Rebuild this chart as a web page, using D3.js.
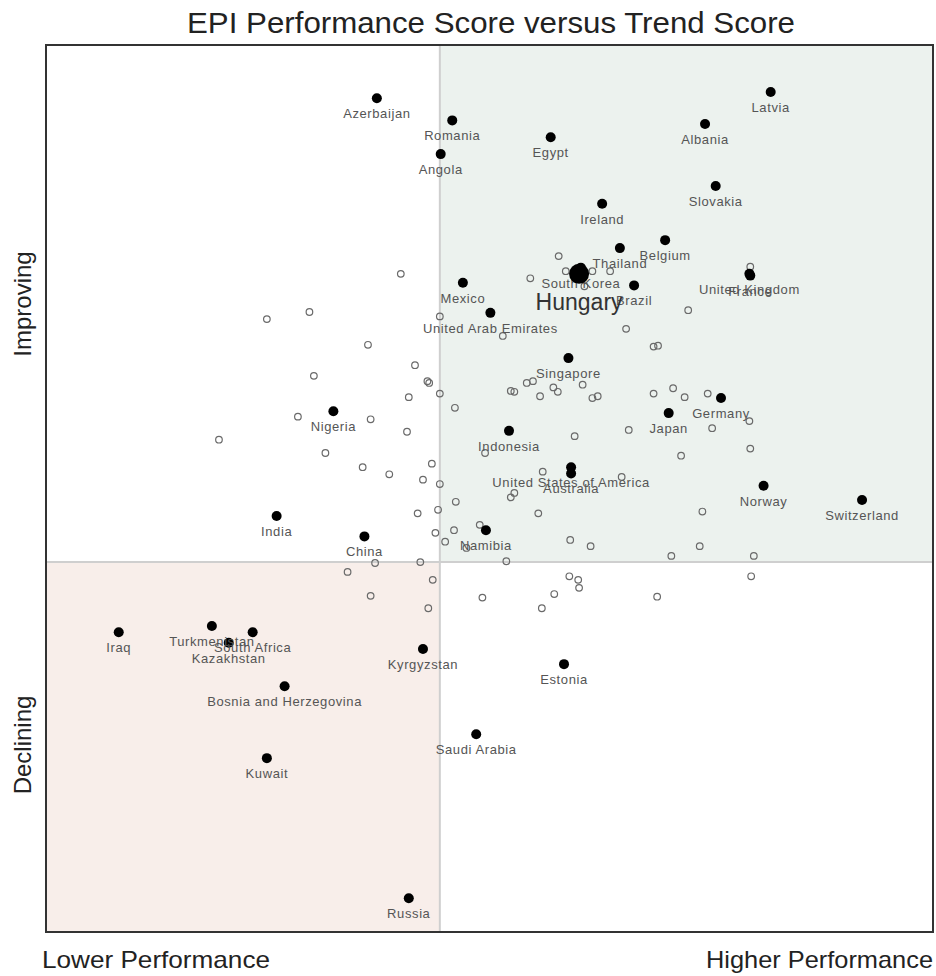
<!DOCTYPE html>
<html>
<head>
<meta charset="utf-8">
<script src="https://cdn.jsdelivr.net/npm/d3@7"></script>
<style>
  body { margin: 0; background: #fff; }
  svg { display: block; font-family: "Liberation Sans", Arial, sans-serif; }
</style>
</head>
<body>
<svg id="chart" width="936" height="976"></svg>
<script>
// highlighted countries (filled dots with labels)
var names = ["Azerbaijan", "Romania", "Angola", "Egypt", "Latvia", "Albania", "Slovakia", "Ireland",
  "Belgium", "Thailand", "South Korea", "Brazil", "Mexico", "United Arab Emirates", "United Kingdom",
  "France", "Singapore", "Germany", "Japan", "Nigeria", "Indonesia", "United States of America",
  "Australia", "Norway", "Switzerland", "India", "China", "Namibia", "Iraq", "Turkmenistan",
  "South Africa", "Kazakhstan", "Kyrgyzstan", "Bosnia and Herzegovina", "Estonia", "Saudi Arabia",
  "Kuwait", "Russia"];
var perf = [37.3, 45.8, 44.5, 56.9, 81.7, 74.3, 75.5, 62.7, 69.8, 64.7, 60.3, 66.3, 47.0, 50.1, 79.3,
  79.4, 58.9, 76.1, 70.2, 32.4, 52.2, 59.2, 59.2, 80.9, 92.0, 26.0, 35.9, 49.6, 8.2, 18.7,
  23.3, 20.6, 42.5, 26.9, 58.4, 48.5, 24.9, 40.9];
var trend = [94.0, 91.5, 87.7, 89.6, 94.7, 91.1, 84.1, 82.1, 78.0, 77.1, 74.9, 72.9, 73.2, 69.8, 74.2,
  74.0, 64.7, 60.2, 58.5, 58.7, 56.5, 52.4, 51.7, 50.3, 48.7, 46.9, 44.6, 45.3, 33.8, 34.5,
  33.8, 32.6, 31.9, 27.7, 30.2, 22.3, 19.6, 3.8];

// the focus country
var focusName = "Hungary";
var focusPerf = 60.1;
var focusTrend = 74.2;

// all other countries (open circles, no labels)
var otherPerf = [40.0, 24.9, 29.7, 36.3, 41.6, 43.0, 43.2, 44.4, 44.4, 30.2, 40.9, 46.1, 28.4, 36.6,
  40.7, 19.5, 31.5, 35.7, 38.7, 43.5, 42.5, 44.4, 46.2, 41.9, 44.2, 46.0, 43.9, 45.0, 37.1, 42.2,
  34.0, 48.9, 47.4, 51.9, 59.1, 55.5, 56.0, 52.8, 52.4, 49.5, 59.6, 52.4, 52.8, 54.2, 54.9, 55.7,
  57.2, 57.7, 43.6, 43.1, 49.2, 55.9, 57.3, 59.0, 60.0, 60.1, 36.6, 68.9, 65.7, 71.6, 64.9, 61.4,
  70.5, 57.8, 54.6, 58.6, 61.6, 63.6, 60.7, 51.5, 65.4, 72.4, 68.5, 69.0, 60.5, 61.6, 62.2, 68.5,
  70.7, 72.0, 79.4, 74.6, 75.1, 79.3, 79.4, 74.0, 73.7, 79.8, 79.5];
var otherTrend = [74.2, 69.1, 69.9, 66.2, 63.9, 62.1, 61.9, 69.4, 60.7, 62.7, 60.3, 59.1, 58.1, 57.8,
  56.4, 55.5, 54.0, 52.4, 51.6, 52.8, 51.0, 50.5, 48.5, 47.2, 47.6, 45.3, 45.0, 44.0, 41.6, 41.7,
  40.6, 45.9, 43.3, 41.8, 44.2, 47.2, 51.9, 49.5, 49.0, 54.0, 55.9, 61.0, 60.9, 61.9, 62.1, 60.4,
  61.4, 60.9, 39.7, 36.5, 37.7, 36.5, 38.1, 40.1, 39.7, 38.8, 37.9, 37.8, 56.6, 53.7, 51.3, 43.5,
  42.4, 76.2, 73.7, 74.5, 74.5, 74.5, 72.8, 67.2, 68.0, 70.1, 66.0, 66.1, 61.7, 60.2, 60.4, 60.7,
  61.3, 60.3, 75.0, 60.7, 56.8, 57.6, 54.5, 47.4, 43.5, 42.4, 40.1];

// quadrant split values
var perfSplit = 44.4;
var trendSplit = 41.7;

var svg = d3.select("#chart");
var plotLeft = 46, plotTop = 45, plotRight = 933, plotBottom = 932;

var x = d3.scaleLinear().domain([0, 100]).range([plotLeft, plotRight]);
var y = d3.scaleLinear().domain([0, 100]).range([plotBottom, plotTop]);

// quadrant backgrounds
svg.append("rect")
    .attr("x", x(perfSplit)).attr("y", y(100))
    .attr("width", x(100) - x(perfSplit)).attr("height", y(trendSplit) - y(100))
    .attr("fill", "#ecf2ee");
svg.append("rect")
    .attr("x", x(0)).attr("y", y(trendSplit))
    .attr("width", x(perfSplit) - x(0)).attr("height", y(0) - y(trendSplit))
    .attr("fill", "#f8eeea");

// divider lines
svg.append("line")
    .attr("x1", x(perfSplit)).attr("x2", x(perfSplit))
    .attr("y1", y(100)).attr("y2", y(0))
    .attr("stroke", "#cfcfcf").attr("stroke-width", 2);
svg.append("line")
    .attr("x1", x(0)).attr("x2", x(100))
    .attr("y1", y(trendSplit)).attr("y2", y(trendSplit))
    .attr("stroke", "#cfcfcf").attr("stroke-width", 2);

// open circles
var others = otherPerf.map(function(d, i) { return { p: d, t: otherTrend[i] }; });
svg.append("g").selectAll("circle")
    .data(others)
  .enter().append("circle")
    .attr("cx", function(d) { return x(d.p); })
    .attr("cy", function(d) { return y(d.t); })
    .attr("r", 3.3)
    .attr("fill", "none")
    .attr("stroke", "#6a6a6a")
    .attr("stroke-width", 1.2);

// labelled countries
var countries = names.map(function(d, i) { return { name: d, p: perf[i], t: trend[i] }; });
var g = svg.append("g");
g.selectAll("circle")
    .data(countries)
  .enter().append("circle")
    .attr("cx", function(d) { return x(d.p); })
    .attr("cy", function(d) { return y(d.t); })
    .attr("r", 5)
    .attr("fill", "#000");
g.selectAll("text")
    .data(countries)
  .enter().append("text")
    .attr("x", function(d) { return x(d.p); })
    .attr("y", function(d) { return y(d.t) + 20; })
    .attr("text-anchor", "middle")
    .attr("font-size", 13)
    .attr("letter-spacing", 0.6)
    .attr("fill", "#555")
    .text(function(d) { return d.name; });

// Hungary
svg.append("circle")
    .attr("cx", x(focusPerf)).attr("cy", y(focusTrend))
    .attr("r", 10).attr("fill", "#000");
svg.append("text")
    .attr("x", x(focusPerf)).attr("y", y(focusTrend) + 36)
    .attr("text-anchor", "middle")
    .attr("font-size", 23)
    .attr("fill", "#333")
    .text(focusName);

// frame
svg.append("rect")
    .attr("x", plotLeft).attr("y", plotTop)
    .attr("width", plotRight - plotLeft).attr("height", plotBottom - plotTop)
    .attr("fill", "none").attr("stroke", "#333").attr("stroke-width", 2);

// title and axis words
svg.append("text")
    .attr("x", 491).attr("y", 33)
    .attr("text-anchor", "middle")
    .attr("font-size", 30)
    .attr("textLength", 608).attr("lengthAdjust", "spacingAndGlyphs")
    .attr("fill", "#222")
    .text("EPI Performance Score versus Trend Score");

svg.append("text")
    .attr("x", 42).attr("y", 968)
    .attr("font-size", 24)
    .attr("textLength", 228).attr("lengthAdjust", "spacingAndGlyphs")
    .attr("fill", "#222")
    .text("Lower Performance");
svg.append("text")
    .attr("x", 706).attr("y", 968)
    .attr("font-size", 24)
    .attr("textLength", 227).attr("lengthAdjust", "spacingAndGlyphs")
    .attr("fill", "#222")
    .text("Higher Performance");

svg.append("text")
    .attr("transform", "translate(31,304) rotate(-90)")
    .attr("text-anchor", "middle")
    .attr("font-size", 24)
    .attr("fill", "#222")
    .text("Improving");
svg.append("text")
    .attr("transform", "translate(31,745) rotate(-90)")
    .attr("text-anchor", "middle")
    .attr("font-size", 24)
    .attr("fill", "#222")
    .text("Declining");
</script>
</body>
</html>
